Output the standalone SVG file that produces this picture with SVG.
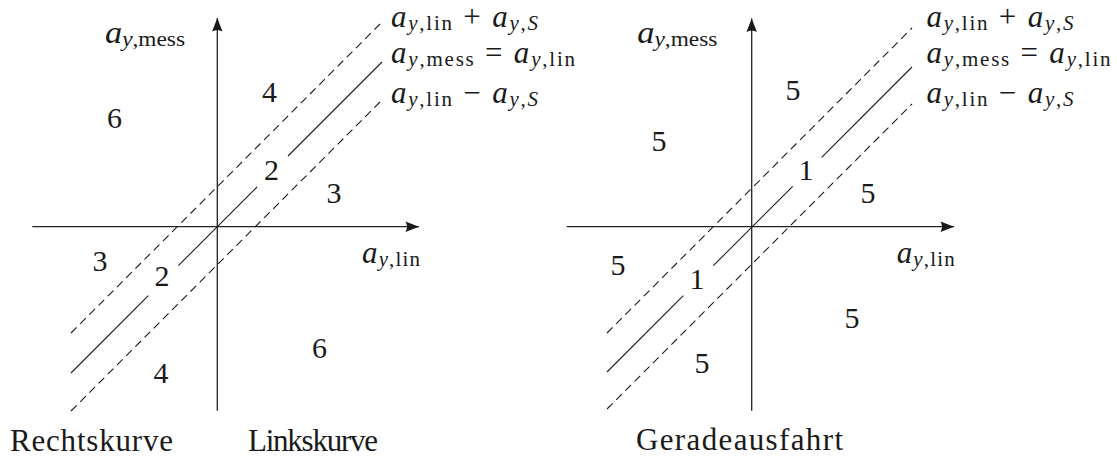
<svg xmlns="http://www.w3.org/2000/svg" width="1117" height="457" viewBox="0 0 1117 457" font-family="'Liberation Serif', 'DejaVu Serif', serif">
<style>
text{font-family:'Liberation Serif','DejaVu Serif',serif;fill:#1a1a1a}
.n{font-size:30px;text-anchor:middle}
.m{font-size:31px}
.i{font-style:italic}
.s{font-size:21px}
.w{font-size:31px}
.ax{stroke:#222;stroke-width:1.3;fill:none}
.so{stroke:#1a1a1a;stroke-width:1.1;fill:none}
.da{stroke:#1a1a1a;stroke-width:1.1;fill:none;stroke-dasharray:8 5}
</style>
<defs>
<marker id="arr" markerUnits="userSpaceOnUse" viewBox="-14 -6 15 12" markerWidth="15" markerHeight="12" refX="0" refY="0" orient="auto">
<path d="M0,0 L-13.5,-5.2 Q-10.5,0 -13.5,5.2 Z" fill="#1a1a1a"/>
</marker>
</defs>

<g id="plot-left">
<g id="axes-left">
<line class="ax" x1="217.3" y1="410.7" x2="217.3" y2="18" marker-end="url(#arr)"/>
<line class="ax" x1="32.3" y1="226.7" x2="419" y2="226.7" marker-end="url(#arr)"/>
</g>
<g id="connectors-left">
<line class="da" x1="71" y1="333" x2="382" y2="22"/>
<line class="so" x1="71" y1="373" x2="148.3" y2="295.7"/>
<line class="so" x1="178.3" y1="265.7" x2="257" y2="187"/>
<line class="so" x1="288" y1="156" x2="382" y2="62"/>
<line class="da" x1="71" y1="411" x2="382" y2="100"/>
</g>
<g id="labels-left">
<text class="m" x="105" y="43" textLength="80" lengthAdjust="spacingAndGlyphs"><tspan class="i">a</tspan><tspan class="s" dy="3"><tspan class="i">y</tspan>,mess</tspan></text>
<text class="m" x="362" y="263" textLength="58" lengthAdjust="spacing"><tspan class="i">a</tspan><tspan class="s" dy="3"><tspan class="i">y</tspan>,lin</tspan></text>
<text class="m" x="391" y="27" textLength="147" lengthAdjust="spacing"><tspan class="i">a</tspan><tspan class="s" dy="3"><tspan class="i">y</tspan>,lin</tspan><tspan dy="-3"> + </tspan><tspan class="i">a</tspan><tspan class="s" dy="3"><tspan class="i">y</tspan>,<tspan class="i">S</tspan></tspan></text>
<text class="m" x="391" y="63" textLength="184" lengthAdjust="spacing"><tspan class="i">a</tspan><tspan class="s" dy="3"><tspan class="i">y</tspan>,mess</tspan><tspan dy="-3"> = </tspan><tspan class="i">a</tspan><tspan class="s" dy="3"><tspan class="i">y</tspan>,lin</tspan></text>
<text class="m" x="391" y="103" textLength="147" lengthAdjust="spacing"><tspan class="i">a</tspan><tspan class="s" dy="3"><tspan class="i">y</tspan>,lin</tspan><tspan dy="-3"> − </tspan><tspan class="i">a</tspan><tspan class="s" dy="3"><tspan class="i">y</tspan>,<tspan class="i">S</tspan></tspan></text>
<text class="n" x="114.5" y="128">6</text>
<text class="n" x="269.5" y="102">4</text>
<text class="n" x="271.5" y="180">2</text>
<text class="n" x="334" y="203">3</text>
<text class="n" x="100" y="271">3</text>
<text class="n" x="162" y="286">2</text>
<text class="n" x="319.5" y="358">6</text>
<text class="n" x="161" y="383">4</text>
<text class="w" x="10" y="451" textLength="163" lengthAdjust="spacing">Rechtskurve</text>
<text class="w" x="248" y="451" textLength="130" lengthAdjust="spacing">Linkskurve</text>
</g>
</g>

<g id="plot-right">
<g id="axes-right">
<line class="ax" x1="751.7" y1="410.7" x2="751.7" y2="18.5" marker-end="url(#arr)"/>
<line class="ax" x1="566.7" y1="226.7" x2="954" y2="226.7" marker-end="url(#arr)"/>
</g>
<g id="connectors-right">
<line class="da" x1="607" y1="333" x2="912" y2="28"/>
<line class="so" x1="607" y1="372" x2="683.3" y2="295.7"/>
<line class="so" x1="713.3" y1="265.7" x2="792.7" y2="186.3"/>
<line class="so" x1="821.7" y1="157.3" x2="912" y2="67"/>
<line class="da" x1="607" y1="409" x2="912" y2="104"/>
</g>
<g id="labels-right">
<text class="m" x="637.3" y="43" textLength="80" lengthAdjust="spacingAndGlyphs"><tspan class="i">a</tspan><tspan class="s" dy="3"><tspan class="i">y</tspan>,mess</tspan></text>
<text class="m" x="896.7" y="263" textLength="58" lengthAdjust="spacing"><tspan class="i">a</tspan><tspan class="s" dy="3"><tspan class="i">y</tspan>,lin</tspan></text>
<text class="m" x="926.5" y="27" textLength="147" lengthAdjust="spacing"><tspan class="i">a</tspan><tspan class="s" dy="3"><tspan class="i">y</tspan>,lin</tspan><tspan dy="-3"> + </tspan><tspan class="i">a</tspan><tspan class="s" dy="3"><tspan class="i">y</tspan>,<tspan class="i">S</tspan></tspan></text>
<text class="m" x="926.5" y="63" textLength="184" lengthAdjust="spacing"><tspan class="i">a</tspan><tspan class="s" dy="3"><tspan class="i">y</tspan>,mess</tspan><tspan dy="-3"> = </tspan><tspan class="i">a</tspan><tspan class="s" dy="3"><tspan class="i">y</tspan>,lin</tspan></text>
<text class="m" x="926.5" y="103" textLength="147" lengthAdjust="spacing"><tspan class="i">a</tspan><tspan class="s" dy="3"><tspan class="i">y</tspan>,lin</tspan><tspan dy="-3"> − </tspan><tspan class="i">a</tspan><tspan class="s" dy="3"><tspan class="i">y</tspan>,<tspan class="i">S</tspan></tspan></text>
<text class="n" x="793" y="100">5</text>
<text class="n" x="659" y="151">5</text>
<text class="n" x="806" y="180">1</text>
<text class="n" x="868" y="203">5</text>
<text class="n" x="618" y="275">5</text>
<text class="n" x="697" y="289">1</text>
<text class="n" x="852" y="328">5</text>
<text class="n" x="702" y="373">5</text>
<text class="w" x="636" y="450" textLength="207" lengthAdjust="spacing">Geradeausfahrt</text>
</g>
</g>
</svg>
